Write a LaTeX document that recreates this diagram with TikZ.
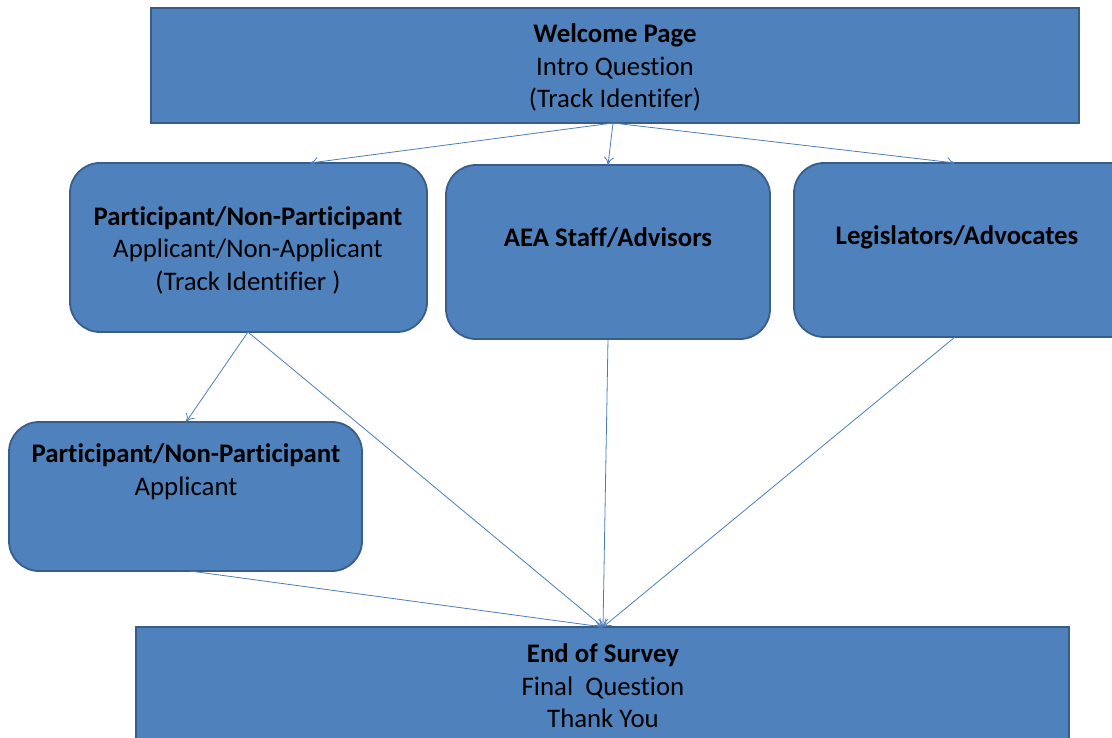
\documentclass[tikz,border=0pt]{standalone}
\usepackage{fontspec}
\setmainfont{Carlito}[RawFeature=-liga]
\usetikzlibrary{arrows.meta}
\definecolor{boxfill}{HTML}{4F81BD}
\definecolor{boxline}{HTML}{385D8A}
\definecolor{linkcol}{HTML}{4A7EBB}
\begin{document}
\begin{tikzpicture}[x=1pt,y=-1pt,
  sqbox/.style={draw=boxline,fill=boxfill,line width=1.8pt},
  rbox/.style={draw=boxline,fill=boxfill,line width=1.8pt,rounded corners=30pt},
  txt/.style={font=\fontsize{26.8}{32.5}\selectfont,align=center,text=black,inner sep=0pt},
  link/.style={draw=linkcol,line width=0.8pt,-{To[length=8pt,width=10pt]}}]
\useasboundingbox (0,0) rectangle (1112,738);
\clip (0,0) rectangle (1112,738);
% boxes
\path[sqbox] (151,8) rectangle (1079,123);
\path[rbox] (70,163) rectangle (427,332);
\path[rbox] (446,165) rectangle (770,339);
\path[rbox] (794,163) rectangle (1140,337);
\path[rbox] (9,422) rectangle (362,571);
\path[sqbox] (136,627) rectangle (1069,760);
% texts
\node[txt] (top) at (615,67.5) {\textbf{Welcome Page}\\Intro Question\\(Track Identifer)};
\node[txt] (pa) at (248,250) {\textbf{Participant/Non-Participant}\\Applicant/Non-Applicant\\(Track Identifier )};
\node[txt] (aea) at (608,238) {\textbf{AEA Staff/Advisors}};
\node[txt] (leg) at (957,237) {\textbf{Legislators/Advocates}};
\node[txt] (pb) at (186,472) {\textbf{Participant/Non-Participant}\\Applicant};
\node[txt] (end) at (603,686) {\textbf{End of Survey}\\Final\ \ Question\\Thank You};
% anchor coordinates
\coordinate (topS) at (613,123);
\coordinate (paN) at (310,163);
\coordinate (aeaN) at (608,165);
\coordinate (legN) at (955,163);
\coordinate (paS) at (248,332);
\coordinate (pbN) at (186,422);
\coordinate (aeaS) at (608,339);
\coordinate (legS) at (955,337);
\coordinate (pbS) at (190,571);
\coordinate (endN) at (603,627);
% connectors
\draw[link] (topS) -- (paN);
\draw[link] (topS) -- (aeaN);
\draw[link] (topS) -- (legN);
\draw[link] (paS) -- (pbN);
\draw[link] (paS) -- (endN);
\draw[link] (aeaS) -- (endN);
\draw[link] (legS) -- (endN);
\draw[link] (pbS) -- (endN);
\end{tikzpicture}
\end{document}
